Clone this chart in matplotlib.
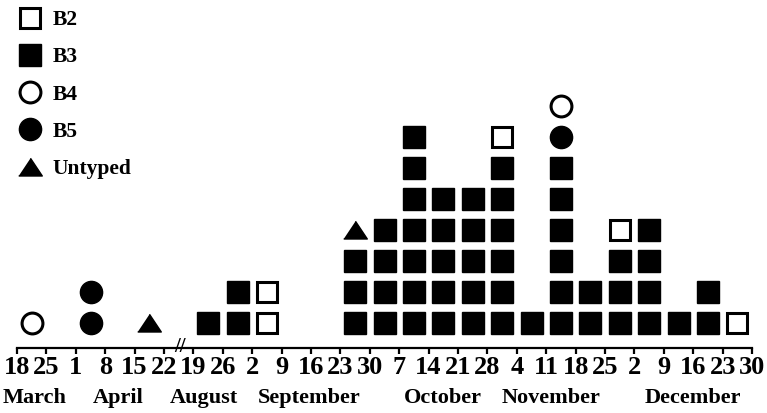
import matplotlib.pyplot as plt
import numpy as np

# weekly tick labels (axis broken between April and August)
week_labels = ["18", "25", "1", "8", "15", "22",
               "19", "26", "2", "9", "16", "23", "30", "7", "14", "21", "28",
               "4", "11", "18", "25", "2", "9", "16", "23", "30"]
months = ["March", "April", "August", "September", "October", "November", "December"]
month_pos = [0.6, 3.45, 6.35, 9.95, 14.5, 18.15, 23.0]

# cases per week (one entry per interval between ticks)
b3 = [0, 0, 0, 0, 0, 0, 1, 2, 0, 0, 0, 3, 4, 7, 5, 5, 6, 1, 6, 2, 3, 4, 1, 2, 0]
b5 = [0, 0, 2, 0, 0, 0, 0, 0, 0, 0, 0, 0, 0, 0, 0, 0, 0, 0, 1, 0, 0, 0, 0, 0, 0]
b4 = [1, 0, 0, 0, 0, 0, 0, 0, 0, 0, 0, 0, 0, 0, 0, 0, 0, 0, 1, 0, 0, 0, 0, 0, 0]
b2 = [0, 0, 0, 0, 0, 0, 0, 0, 2, 0, 0, 0, 0, 0, 0, 0, 1, 0, 0, 0, 1, 0, 0, 0, 1]
untyped = [0, 0, 0, 0, 1, 0, 0, 0, 0, 0, 0, 1, 0, 0, 0, 0, 0, 0, 0, 0, 0, 0, 0, 0, 0]

plt.rcParams['font.family'] = ['Liberation Serif', 'DejaVu Serif']

fig = plt.figure(figsize=(7.67, 4.13), dpi=100)
ax = fig.add_axes([0, 0, 1, 1])

tri = [(-1, -0.72), (1, -0.72), (0, 0.78)]
styles = {
    'B3': dict(marker='s', mfc='black', mec='black', ms=15.5, mew=1),
    'B5': dict(marker='o', mfc='black', mec='black', ms=16, mew=1),
    'B4': dict(marker='o', mfc='white', mec='black', ms=15, mew=2.2),
    'B2': dict(marker='s', mfc='white', mec='black', ms=14.5, mew=2.2),
    'Untyped': dict(marker=tri, mfc='black', mec='black', ms=17, mew=1),
}
series = [('B3', b3), ('B5', b5), ('B4', b4), ('B2', b2), ('Untyped', untyped)]

height = np.zeros(len(b3), dtype=int)
handles = {}
for name, counts in series:
    xs, ys = [], []
    for i, c in enumerate(counts):
        for k in range(c):
            xs.append(i + 0.5)
            ys.append(height[i] + k + 1)
        height[i] += c
    line, = ax.plot(xs, ys, linestyle='none', **styles[name])
    handles[name] = line

axis_y = 0.194
ax.set_xlim(-17 / 29.4, 750 / 29.4)
ax.set_ylim(-1.903, 11.42)

for s in ['top', 'left', 'right']:
    ax.spines[s].set_visible(False)
ax.spines['bottom'].set_position(('data', axis_y))
ax.spines['bottom'].set_bounds(0, len(week_labels) - 1)
ax.spines['bottom'].set_linewidth(1.6)
ax.set_yticks([])
ax.set_xticks(range(len(week_labels)))
ax.set_xticklabels(week_labels, fontsize=19, fontweight='bold')
ax.tick_params(axis='x', direction='out', length=4, width=1.6, pad=2)

for m, p in zip(months, month_pos):
    ax.text(p, -1.42, m, ha='center', va='center', fontsize=16, fontweight='bold')

# axis break mark
ax.text(5.55, axis_y + 0.03, '//', ha='center', va='center', fontsize=15, fontweight='bold')

order = ['B2', 'B3', 'B4', 'B5', 'Untyped']
leg = ax.legend([handles[n] for n in order], order, loc='upper left',
                bbox_to_anchor=(17 / 767, 1 - 10 / 413), frameon=False,
                borderpad=0, borderaxespad=0, handlelength=1.2, handletextpad=0.45,
                labelspacing=0.8, prop={'family': 'Liberation Serif', 'weight': 'bold', 'size': 15.5})

fig.savefig('out.png', dpi=100)
